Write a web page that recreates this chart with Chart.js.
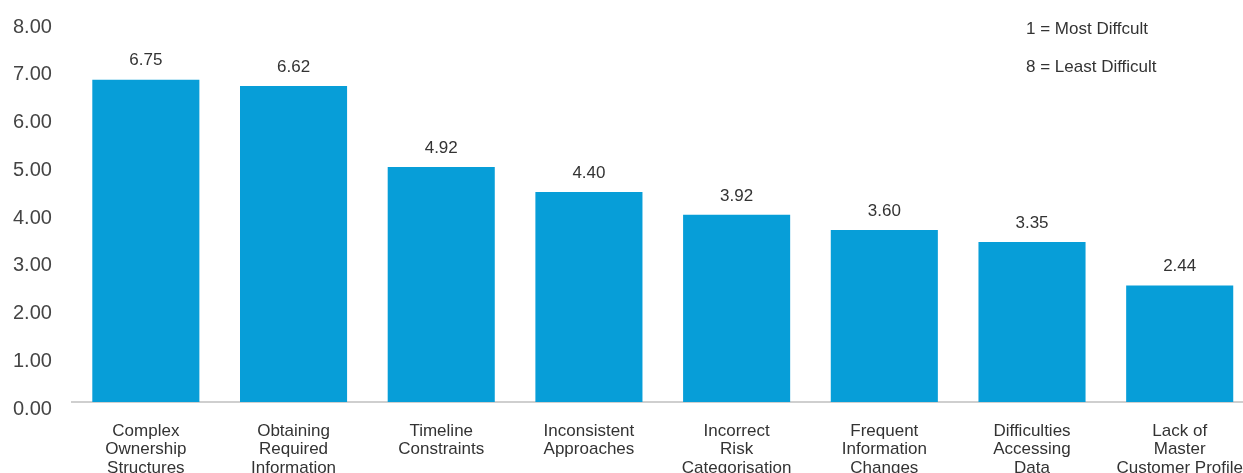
<!DOCTYPE html>
<html>
<head>
<meta charset="utf-8">
<script src="https://cdn.jsdelivr.net/npm/chart.js@4/dist/chart.umd.min.js"></script>
<style>
  html, body { margin: 0; padding: 0; overflow: hidden; background: #fff; }
  #wrap { width: 1263px; height: 490px; }
</style>
</head>
<body>
<div id="wrap"><canvas id="difficultyChart" width="1263" height="490"></canvas></div>
<script>
const categories = [
    ['Complex', 'Ownership', 'Structures'],
    ['Obtaining', 'Required', 'Information'],
    ['Timeline', 'Constraints'],
    ['Inconsistent', 'Approaches'],
    ['Incorrect', 'Risk', 'Categorisation'],
    ['Frequent', 'Information', 'Changes'],
    ['Difficulties', 'Accessing', 'Data'],
    ['Lack of', 'Master', 'Customer Profile']
];
const scores = [6.75, 6.62, 4.92, 4.40, 3.92, 3.60, 3.35, 2.44];
const yTicks = [0, 1, 2, 3, 4, 5, 6, 7, 8];
const notes = ['1 = Most Diffcult', '8 = Least Difficult'];

const fontFamily = '"Liberation Sans", Arial, Helvetica, sans-serif';

// value labels above the bars and the two notes top right
const labelPlugin = {
    id: 'labelPlugin',
    afterDatasetsDraw(chart) {
        const ctx = chart.ctx;
        const meta = chart.getDatasetMeta(0);
        ctx.save();
        ctx.font = '17px ' + fontFamily;
        ctx.fillStyle = '#333';
        ctx.textAlign = 'center';
        ctx.textBaseline = 'middle';
        meta.data.forEach(function (bar, i) {
            ctx.fillText(scores[i].toFixed(2), bar.x, bar.y - 19);
        });
        ctx.textAlign = 'left';
        notes.forEach(function (txt, i) {
            ctx.fillText(txt, 1026, 29 + i * 38);
        });
        ctx.restore();
    }
};

const data = {
    labels: categories,
    datasets: [{
        data: scores,
        backgroundColor: '#079ed8',
        borderWidth: 0,
        categoryPercentage: 1,
        barPercentage: 0.725
    }]
};

const config = {
    type: 'bar',
    data: data,
    options: {
        responsive: false,
        animation: false,
        layout: { padding: { top: 20, left: 13, right: 0, bottom: 0 } },
        scales: {
            x: {
                grid: { display: false, drawTicks: false },
                border: { display: true, color: '#cfcfcf', width: 2 },
                ticks: {
                    color: '#333',
                    padding: 20,
                    maxRotation: 0,
                    autoSkip: false,
                    font: { family: fontFamily, size: 17, lineHeight: 1.08 }
                },
                afterFit(scale) { scale.height = 88; }
            },
            y: {
                min: 0,
                max: 8,
                afterBuildTicks(scale) { scale.ticks = yTicks.map(v => ({ value: v })); },
                grid: { display: false, drawTicks: false },
                border: { display: false },
                ticks: {
                    color: '#444',
                    padding: 0,
                    crossAlign: 'far',
                    labelOffset: 7,
                    font: { family: fontFamily, size: 20 },
                    callback: v => v.toFixed(2)
                },
                afterFit(scale) { scale.width = 59; }
            }
        },
        plugins: {
            legend: { display: false },
            tooltip: { enabled: false }
        }
    },
    plugins: [labelPlugin]
};

new Chart(document.getElementById('difficultyChart'), config);
</script>
</body>
</html>
